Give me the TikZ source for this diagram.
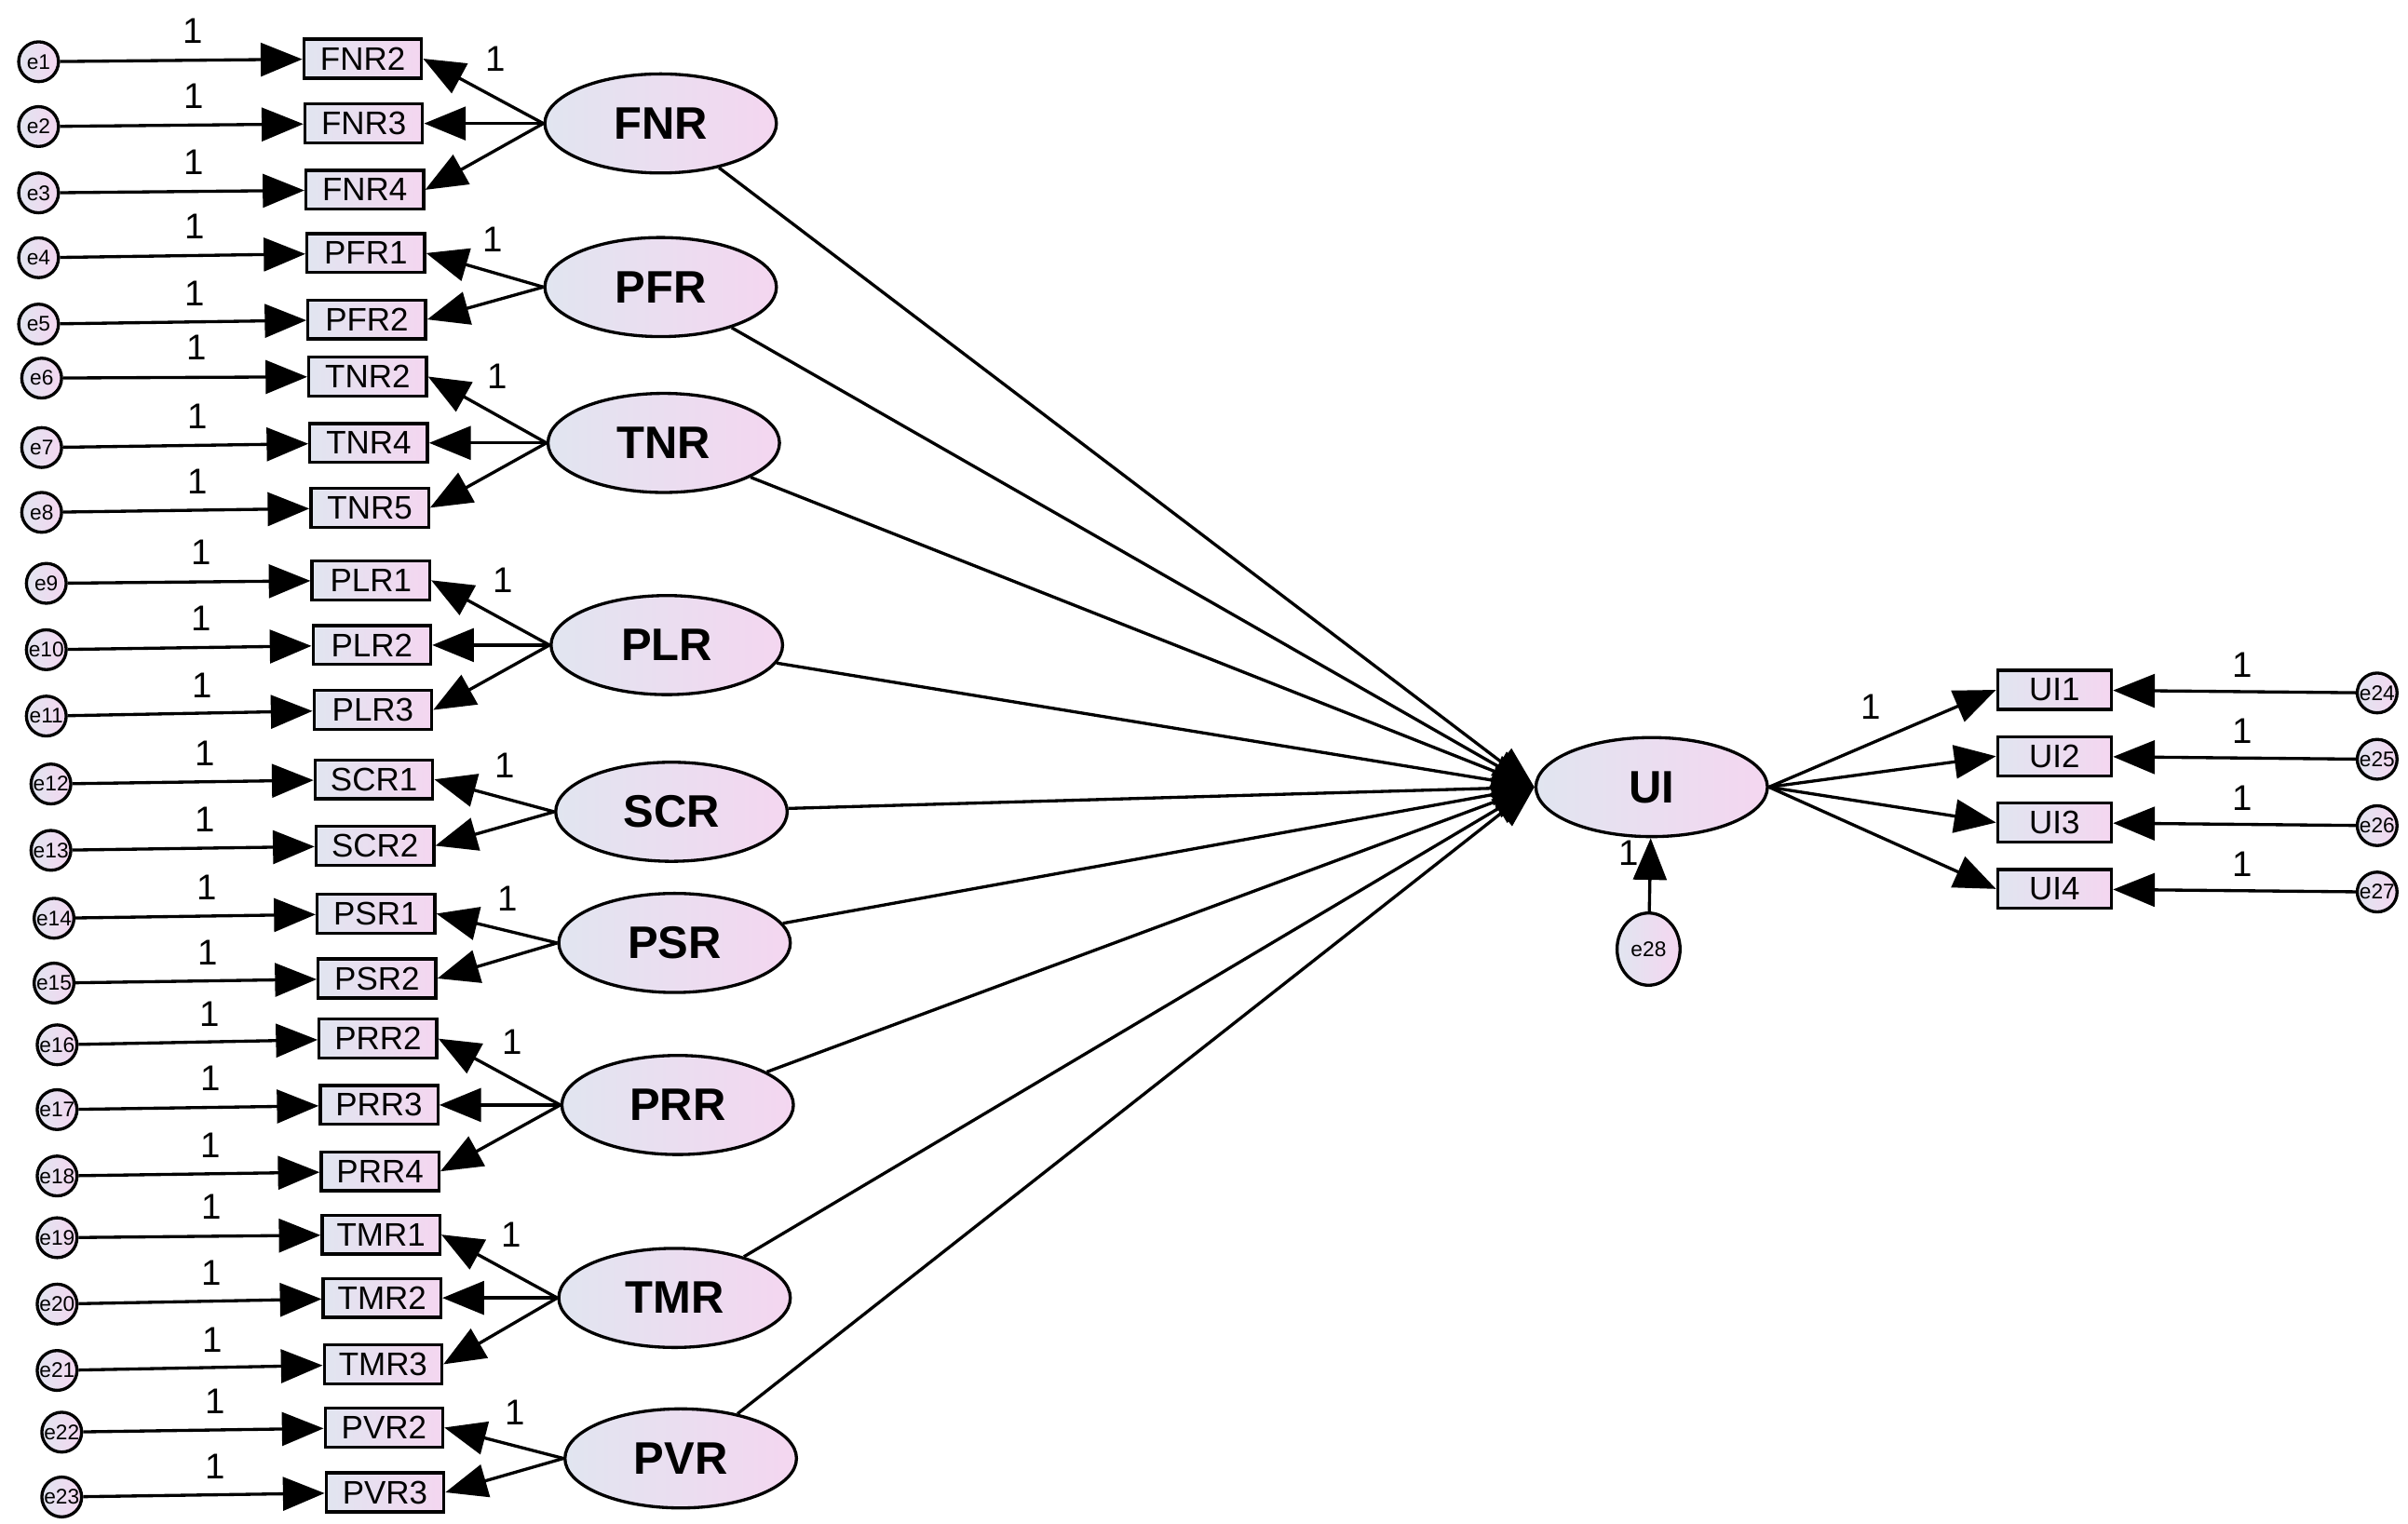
\documentclass[tikz,border=0pt]{standalone}
\usepackage{fontspec}
\setmainfont{Liberation Sans}
\usetikzlibrary{shapes.geometric,arrows.meta}
\definecolor{gl}{HTML}{E1E5F0}
\definecolor{gr}{HTML}{F4D6F0}
\begin{document}
\begin{tikzpicture}[x=1cm/60,y=-1cm/60,line width=0.95pt,
  obs/.style={draw,rectangle,minimum width=1.27cm,minimum height=0.42cm,inner sep=0pt,left color=gl,right color=gr,font=\fontsize{10}{10}\selectfont},
  lat/.style={draw,ellipse,minimum width=2.5cm,minimum height=1.07cm,inner sep=0pt,left color=gl,right color=gr,font=\fontsize{14}{14}\selectfont\bfseries},
  err/.style={draw,circle,minimum size=0.43cm,inner sep=0pt,left color=gl,right color=gr,font=\fontsize{6.5}{6.5}\selectfont},
  arr/.style={-{Triangle[length=0.45cm,width=0.36cm]}},
  one/.style={font=\fontsize{11}{11}\selectfont}]
\useasboundingbox (0,0) rectangle (1560,987.5);
% indicators
\foreach \n/\ex/\ey/\bx/\by in {e1/25/40/FNR2/38, e2/25/82/FNR3/80, e3/25/125/FNR4/123,
  e4/25/167/PFR1/164, e5/25/210/PFR2/207, e6/27/245/TNR2/244, e7/27/290/TNR4/287, e8/27/332/TNR5/329,
  e9/30/378/PLR1/376, e10/30/421/PLR2/418, e11/30/464/PLR3/460, e12/33/508/SCR1/505, e13/33/551/SCR2/548,
  e14/35/595/PSR1/592, e15/35/637/PSR2/634, e16/37/677/PRR2/673, e17/37/719/PRR3/716, e18/37/762/PRR4/759,
  e19/37/802/TMR1/800, e20/37/845/TMR2/841, e21/37/888/TMR3/884, e22/40/928/PVR2/925, e23/40/970/PVR3/967}{
  \node[err] (\n) at (\ex,\ey) {\n};
  \pgfmathsetmacro{\bxx}{235+(\ey-40)*0.0155}
  \node[obs] (\bx) at (\bxx,\by) {\bx};
  \draw[arr] (\n) -- (\bx);
  \node[one] at ({(\ex+\bxx)/2-5},{\ey-20}) {1};
}
% latents
\foreach \l/\lx/\ly in {FNR/428/80, PFR/428/186, TNR/430/287, PLR/432/418, SCR/435/526, PSR/437/611, PRR/439/716, TMR/437/841, PVR/441/945}{
  \node[lat] (\l) at (\lx,\ly) {\l};
}
\node[lat] (UI) at (1070,510) {UI};
\foreach \l/\a in {FNR/{FNR2,FNR3,FNR4}, PFR/{PFR1,PFR2}, TNR/{TNR2,TNR4,TNR5}, PLR/{PLR1,PLR2,PLR3}, SCR/{SCR1,SCR2}, PSR/{PSR1,PSR2}, PRR/{PRR2,PRR3,PRR4}, TMR/{TMR1,TMR2,TMR3}, PVR/{PVR2,PVR3}}{
  \foreach \b in \a { \draw[arr] (\l.west) -- (\b.east); }
  \draw[arr] (\l) -- (UI.west);
}
\foreach \l/\x/\y in {FNR/321/38, PFR/319/155, TNR/322/244, PLR/326/376, SCR/327/496, PSR/329/582, PRR/332/675, TMR/331/800, PVR/334/915}{
  \node[one] at (\x,\y) {1};
}
% UI part
\node[err,ellipse,minimum width=0.68cm,minimum height=0.78cm] (e28) at (1068,615) {e28};
\draw[arr] (e28) -- (UI);
\node[one] at (1055,553) {1};
\foreach \b/\y/\e in {UI1/447/e24, UI2/490/e25, UI3/533/e26, UI4/576/e27}{
  \node[obs,minimum width=1.23cm] (\b) at (1331,\y) {\b};
  \node[err] (\e) at (1540,\y+2) {\e};
  \draw[arr] (\e) -- (\b);
  \draw[arr] (UI.east) -- (\b.west);
  \node[one] at (1453,\y-16) {1};
}
\node[one] at (1212,458) {1};
\end{tikzpicture}
\end{document}
